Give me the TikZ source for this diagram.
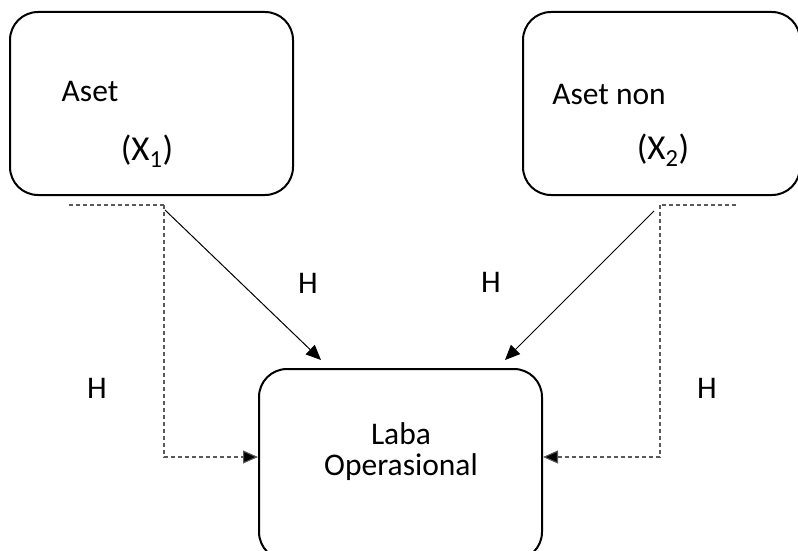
\documentclass[tikz,border=0pt]{standalone}
\usepackage{fontspec}
\setmainfont{Carlito}
\usetikzlibrary{arrows.meta}
\begin{document}
\begin{tikzpicture}[x=1pt,y=-1pt,
  box/.style={draw=black,line width=2pt,rounded corners=28pt,inner sep=0pt},
  lbl/.style={font=\fontsize{31.5}{36}\selectfont,inner sep=0pt},
  var/.style={font=\fontsize{35}{40}\selectfont,inner sep=0pt},
  link/.style={line width=1pt,-{Triangle[length=15pt,width=13pt]}},
  dashlink/.style={line width=1.1pt,draw=black!65,dash pattern=on 4pt off 3pt,
    -{Triangle[length=15pt,width=13pt,fill=black]}},
  dashline/.style={line width=1.1pt,draw=black!65,dash pattern=on 4pt off 3pt}]
\useasboundingbox (0,0) rectangle (798,551);
% boxes
\node[box,minimum width=283pt,minimum height=183pt] (aset) at (151.5,103.5) {};
\node[box,minimum width=277pt,minimum height=183pt] (asetnon) at (661.5,103.5) {};
\node[box,minimum width=283pt,minimum height=191pt] (laba) at (400.5,464.5) {};
% box texts
\node[lbl] (t1) at (90,92) {Aset};
\node[var] (t2) at (147,151) {(X\textsubscript{1})};
\node[lbl] (t3) at (609,95) {Aset non};
\node[var] (t4) at (663,150) {(X\textsubscript{2})};
\node[lbl,align=center] (t5) at (401,452) {Laba\\[-5pt]Operasional};
% labels
\node[lbl] (h1) at (308,283) {H};
\node[lbl] (h2) at (491,282) {H};
\node[lbl] (h3) at (97,388) {H};
\node[lbl] (h4) at (707,388) {H};
% connector points
\coordinate (a1) at (165,210);
\coordinate (a1e) at (321,360);
\coordinate (a2) at (654,211);
\coordinate (a2e) at (505,360);
\coordinate (d1s) at (69,205);
\coordinate (d1c) at (164,205);
\coordinate (d2s) at (736,205);
\coordinate (d2c) at (660,205);
\coordinate (ly) at (0,457);
% solid arrows
\draw[link] (a1) -- (a1e);
\draw[link] (a2) -- (a2e);
% dashed paths
\draw[dashline] (d1s) -- (d1c);
\draw[dashlink] (d1c) |- (laba.west |- ly);
\draw[dashline] (d2s) -- (d2c);
\draw[dashlink] (d2c) |- (laba.east |- ly);
\end{tikzpicture}
\end{document}
